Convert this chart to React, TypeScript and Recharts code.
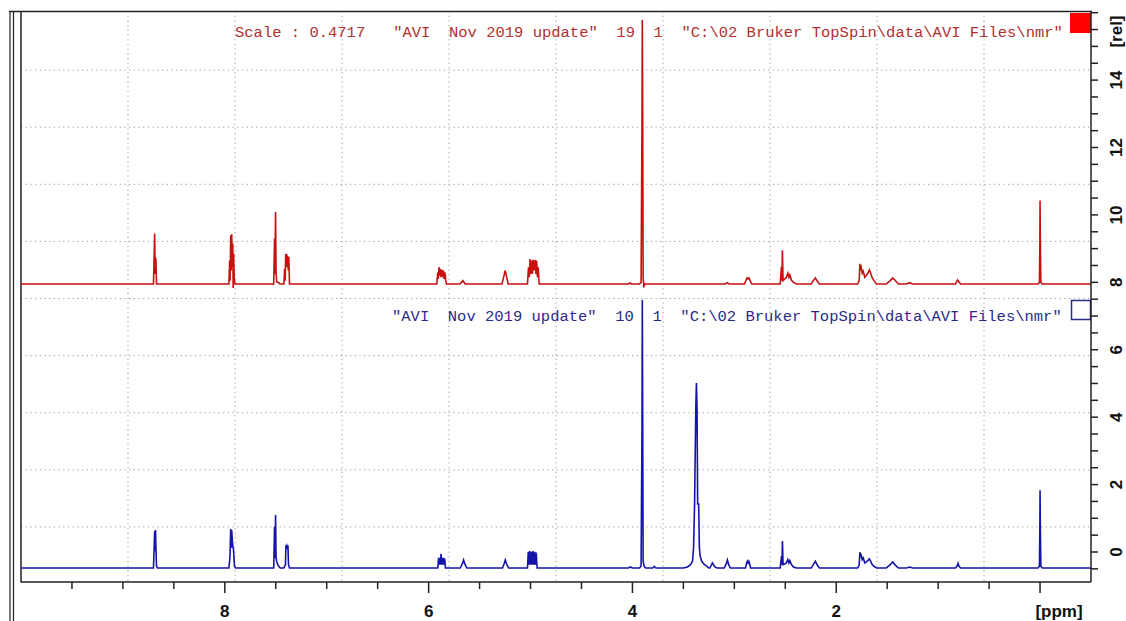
import { ComposedChart, Line, XAxis, YAxis, CartesianGrid, Customized } from "recharts";

// [ppm, intensity above own baseline]
const redPoints: [number, number][] = [
  [10, 0],
  [8.7, 0], [8.688, 1.5], [8.684, 0.3], [8.68, 0.78], [8.676, 0.72], [8.67, 0],
  [7.96, 0], [7.952, 0.7], [7.948, 0.1], [7.942, 1.45], [7.938, 0.4], [7.932, 1.48], [7.928, 0.5],
  [7.922, 1.2], [7.918, -0.12], [7.913, 0.9], [7.908, 0.2], [7.9, 0],
  [7.52, 0], [7.512, 1.35], [7.508, 0.3], [7.502, 2.14], [7.497, 0.3], [7.49, 0.06], [7.47, 0.04], [7.46, 0],
  [7.42, 0], [7.413, 0.45], [7.408, 0.1], [7.402, 0.9], [7.397, 0.5], [7.392, 0.88], [7.387, 0.5],
  [7.382, 0.83], [7.377, 0.4], [7.372, 0.8], [7.365, 0],
  [5.92, 0], [5.91, 0.35], [5.905, 0.15], [5.898, 0.5], [5.892, 0.25], [5.885, 0.45], [5.878, 0.2],
  [5.87, 0.42], [5.862, 0.2], [5.855, 0.4], [5.848, 0.15], [5.84, 0.35], [5.832, 0.1], [5.825, 0],
  [5.69, 0], [5.665, 0.1], [5.64, 0],
  [5.28, 0], [5.26, 0.25], [5.25, 0.4], [5.24, 0.3], [5.22, 0],
  [5.03, 0], [5.02, 0.5], [5.012, 0.2], [5.005, 0.74], [4.998, 0.3], [4.99, 0.7], [4.982, 0.3],
  [4.975, 0.72], [4.965, 0.4], [4.955, 0.72], [4.947, 0.3], [4.94, 0.7], [4.932, 0.2], [4.925, 0.5], [4.915, 0],
  [4.04, 0], [4.025, 0.03], [4.01, 0],
  [3.93, 0], [3.915, 0.05], [3.906, 4.93], [3.903, 7.83], [3.899, 4.93], [3.895, 0.2], [3.888, -0.1], [3.88, 0],
  [3.09, 0], [3.07, 0.04], [3.05, 0],
  [2.9, 0], [2.885, 0.12], [2.875, 0.18], [2.865, 0.15], [2.855, 0.18], [2.845, 0.1], [2.83, 0],
  [2.55, 0], [2.538, 0.5], [2.533, 0.1], [2.528, 1.0], [2.522, 0.1], [2.505, 0.15], [2.49, 0.2],
  [2.475, 0.32], [2.465, 0.2], [2.455, 0.27], [2.44, 0.12], [2.42, 0.05], [2.39, 0],
  [2.245, 0], [2.225, 0.1], [2.205, 0.18], [2.185, 0.08], [2.165, 0],
  [1.79, 0], [1.775, 0.1], [1.768, 0.6], [1.762, 0.45], [1.755, 0.5], [1.745, 0.32], [1.735, 0.38],
  [1.72, 0.2], [1.705, 0.25], [1.69, 0.32], [1.675, 0.42], [1.665, 0.35], [1.65, 0.2], [1.63, 0.1], [1.605, 0],
  [1.51, 0], [1.47, 0.1], [1.445, 0.18], [1.425, 0.12], [1.39, 0],
  [1.31, 0], [1.28, 0.04], [1.25, 0],
  [0.83, 0], [0.81, 0.12], [0.795, 0.06], [0.78, 0],
  [0.02, 0], [0.006, 0.05], [0.002, 1.25], [0, 2.48], [-0.003, 1.25], [-0.008, 0.05], [-0.02, 0],
  [-0.5, 0],
];

const bluePoints: [number, number][] = [
  [10, 0],
  [8.7, 0], [8.688, 1.1], [8.684, 0.5], [8.68, 1.13], [8.676, 0.6], [8.67, 0.05], [8.66, 0],
  [7.96, 0], [7.95, 0.3], [7.942, 1.16], [7.937, 0.6], [7.932, 1.12], [7.926, 0.8], [7.92, 0.62],
  [7.915, 0.55], [7.905, 0.05], [7.895, 0],
  [7.52, 0], [7.512, 1.22], [7.508, 0.3], [7.502, 1.57], [7.497, 0.3], [7.49, 0.18], [7.48, 0.1], [7.465, 0.03], [7.455, 0],
  [7.42, 0], [7.405, 0.1], [7.4, 0.68], [7.395, 0.62], [7.39, 0.66], [7.385, 0.6], [7.38, 0.62], [7.375, 0.1], [7.365, 0],
  [5.91, 0], [5.902, 0.3], [5.895, 0.1], [5.89, 0.3], [5.885, 0.1], [5.878, 0.42], [5.872, 0.1],
  [5.866, 0.3], [5.86, 0.1], [5.854, 0.3], [5.848, 0.1], [5.842, 0.28], [5.835, 0],
  [5.69, 0], [5.67, 0.12], [5.657, 0.24], [5.645, 0.12], [5.625, 0],
  [5.275, 0], [5.26, 0.12], [5.248, 0.24], [5.235, 0.12], [5.215, 0],
  [5.03, 0], [5.022, 0.48], [5.015, 0.1], [5.008, 0.5], [5.0, 0.1], [4.992, 0.48], [4.984, 0.1],
  [4.976, 0.5], [4.968, 0.1], [4.96, 0.48], [4.952, 0.1], [4.944, 0.46], [4.935, 0],
  [4.04, 0], [4.02, 0.03], [4.0, 0],
  [3.93, 0], [3.915, 0.06], [3.906, 4.24], [3.903, 7.95], [3.899, 4.24], [3.895, 0.2], [3.885, 0.05], [3.87, 0],
  [3.8, 0], [3.785, 0.05], [3.77, 0],
  [3.5, 0], [3.46, 0.03], [3.43, 0.1], [3.41, 0.2], [3.4, 0.6], [3.39, 1.9], [3.378, 4.75], [3.372, 5.49],
  [3.366, 4.75], [3.36, 1.9], [3.35, 1.9], [3.343, 0.6], [3.335, 0.35], [3.32, 0.2], [3.3, 0.12], [3.27, 0.05], [3.25, 0],
  [3.24, 0], [3.215, 0.15], [3.19, 0.03], [3.17, 0],
  [3.1, 0], [3.08, 0.12], [3.068, 0.24], [3.055, 0.1], [3.04, 0],
  [2.89, 0], [2.88, 0.15], [2.872, 0.2], [2.865, 0.15], [2.858, 0.2], [2.85, 0.12], [2.84, 0],
  [2.55, 0], [2.537, 0.35], [2.532, 0.1], [2.528, 0.8], [2.522, 0.1], [2.505, 0.12], [2.49, 0.15],
  [2.475, 0.25], [2.465, 0.15], [2.455, 0.22], [2.44, 0.1], [2.42, 0.03], [2.39, 0],
  [2.245, 0], [2.225, 0.1], [2.205, 0.2], [2.185, 0.08], [2.165, 0],
  [1.79, 0], [1.775, 0.08], [1.768, 0.47], [1.762, 0.35], [1.755, 0.38], [1.745, 0.25], [1.735, 0.3],
  [1.72, 0.15], [1.705, 0.18], [1.69, 0.22], [1.675, 0.27], [1.665, 0.22], [1.65, 0.12], [1.63, 0.05], [1.605, 0],
  [1.51, 0], [1.47, 0.1], [1.445, 0.18], [1.425, 0.1], [1.39, 0],
  [1.31, 0], [1.28, 0.03], [1.25, 0],
  [0.83, 0], [0.815, 0.05], [0.805, 0.14], [0.795, 0.05], [0.78, 0],
  [0.02, 0], [0.006, 0.05], [0.002, 1.16], [0, 2.31], [-0.003, 1.16], [-0.008, 0.05], [-0.02, 0],
  [-0.5, 0],
];

// stacked display: each trace sits on its own baseline of the shared [rel] axis
const RED_BASE = 7.95;
const BLUE_BASE = -0.475;

const xTicks = [9.5, 9, 8.5, 8, 7.5, 7, 6.5, 6, 5.5, 5, 4.5, 4, 3.5, 3, 2.5, 2, 1.5, 1, 0.5, 0];
const xLabels = [8, 6, 4, 2];
const yTicks = [-0.5, 0, 0.5, 1, 1.5, 2, 2.5, 3, 3.5, 4, 4.5, 5, 5.5, 6, 6.5, 7, 7.5, 8, 8.5, 9, 9.5, 10,
  10.5, 11, 11.5, 12, 12.5, 13, 13.5, 14, 14.5, 15, 15.5, 16];
const yLabels = [0, 2, 4, 6, 8, 10, 12, 14];

const redTitle = 'Scale : 0.4717   "AVI  Nov 2019 update"  19  1  "C:\\02 Bruker TopSpin\\data\\AVI Files\\nmr"';
const blueTitle = '"AVI  Nov 2019 update"  10  1  "C:\\02 Bruker TopSpin\\data\\AVI Files\\nmr"';

const RED = "#c81010";
const BLUE = "#1414aa";
const AXIS = "#222";
const labelFont = { fontFamily: "'Liberation Sans', Arial, sans-serif", fontWeight: 700, fontSize: 17, fill: "#111" };
const monoFont = { fontFamily: "'Liberation Mono', 'Courier New', monospace", fontSize: 15.5, whiteSpace: "pre" as const };

const toSeries = (pts: [number, number][], base: number) => pts.map(([ppm, v]) => ({ ppm, y: base + v }));
const redData = toSeries(redPoints, RED_BASE);
const blueData = toSeries(bluePoints, BLUE_BASE);

function PpmTick({ x, y, payload }: any) {
  const v = payload.value;
  const major = v % 2 === 0;
  return (
    <g>
      <line x1={x} x2={x} y1={y} y2={y + (major ? 11 : 7)} stroke={AXIS} strokeWidth={1.5} />
      {xLabels.includes(v) && (
        <text x={x} y={y + 35} textAnchor="middle" style={labelFont}>{v}</text>
      )}
      {v === 0 && (
        <text x={x + 19} y={y + 35} textAnchor="middle" style={labelFont}>[ppm]</text>
      )}
    </g>
  );
}

function RelTick({ x, y, payload }: any) {
  const v = payload.value;
  const lx = x + 26;
  return (
    <g>
      <line x1={x} x2={x + 7} y1={y} y2={y} stroke={AXIS} strokeWidth={1.5} />
      {yLabels.includes(v) && (
        <text x={lx} y={y} transform={`rotate(-90 ${lx} ${y})`} textAnchor="middle" dominantBaseline="central" style={labelFont}>
          {v}
        </text>
      )}
      {v === 15.5 && (
        <text x={lx} y={y + 2} transform={`rotate(-90 ${lx} ${y + 2})`} textAnchor="middle" dominantBaseline="central" style={labelFont}>
          [rel]
        </text>
      )}
    </g>
  );
}

function Frame() {
  return (
    <g>
      <line x1={9} x2={1092} y1={11.5} y2={11.5} stroke={AXIS} strokeWidth={1.5} />
      <line x1={10} x2={10} y1={11} y2={621} stroke={AXIS} strokeWidth={1.2} />
      <line x1={13.5} x2={13.5} y1={11} y2={621} stroke={AXIS} strokeWidth={1.2} />
      <line x1={21} x2={21} y1={11} y2={582.5} stroke={AXIS} strokeWidth={1.5} />
      <text x={235} y={37} xmlSpace="preserve" style={{ ...monoFont, fill: "#b03030" }}>{redTitle}</text>
      <rect x={1070} y={13} width={21} height={20} fill="#ff0000" />
      <text x={392} y={321} xmlSpace="preserve" style={{ ...monoFont, fill: "#2a2a88" }}>{blueTitle}</text>
      <rect x={1071.5} y={300.5} width={19} height={19} fill="#fff" stroke="#2a2a88" strokeWidth={1.5} />
    </g>
  );
}

export default function App() {
  return (
    <div style={{ position: "absolute", left: 0, top: 0, width: 1126, height: 621, background: "#fff" }}>
      <ComposedChart width={1126} height={621} margin={{ top: 11, right: 0, bottom: 0, left: 21 }}>
        <CartesianGrid
          stroke="#999"
          strokeDasharray="1.2 3.5"
          verticalCoordinatesGenerator={({ offset }: any) =>
            [1, 2, 3, 4, 5, 6, 7, 8, 9].map((k) => offset.left + (offset.width * k) / 10)
          }
          horizontalCoordinatesGenerator={({ offset }: any) =>
            [1, 2, 3, 4, 5, 6, 7, 8, 9].map((k) => offset.top + 2 + (offset.height * k) / 10)
          }
        />
        <XAxis
          type="number"
          dataKey="ppm"
          domain={[-0.5, 10]}
          reversed
          allowDataOverflow
          ticks={xTicks}
          interval={0}
          height={39}
          tickSize={0}
          tickMargin={0}
          tickLine={false}
          axisLine={{ stroke: AXIS, strokeWidth: 1.5 }}
          tick={(p: any) => <PpmTick {...p} />}
        />
        <YAxis
          orientation="right"
          type="number"
          domain={[-0.89, 16.05]}
          allowDataOverflow
          ticks={yTicks}
          interval={0}
          width={35}
          tickSize={0}
          tickMargin={0}
          tickLine={false}
          axisLine={{ stroke: AXIS, strokeWidth: 1.5 }}
          tick={(p: any) => <RelTick {...p} />}
        />
        <Line data={redData} dataKey="y" type="linear" stroke={RED} strokeWidth={1.6} dot={false} activeDot={false} isAnimationActive={false} />
        <Line data={blueData} dataKey="y" type="linear" stroke={BLUE} strokeWidth={1.6} dot={false} activeDot={false} isAnimationActive={false} />
        <Customized component={Frame} />
      </ComposedChart>
    </div>
  );
}
